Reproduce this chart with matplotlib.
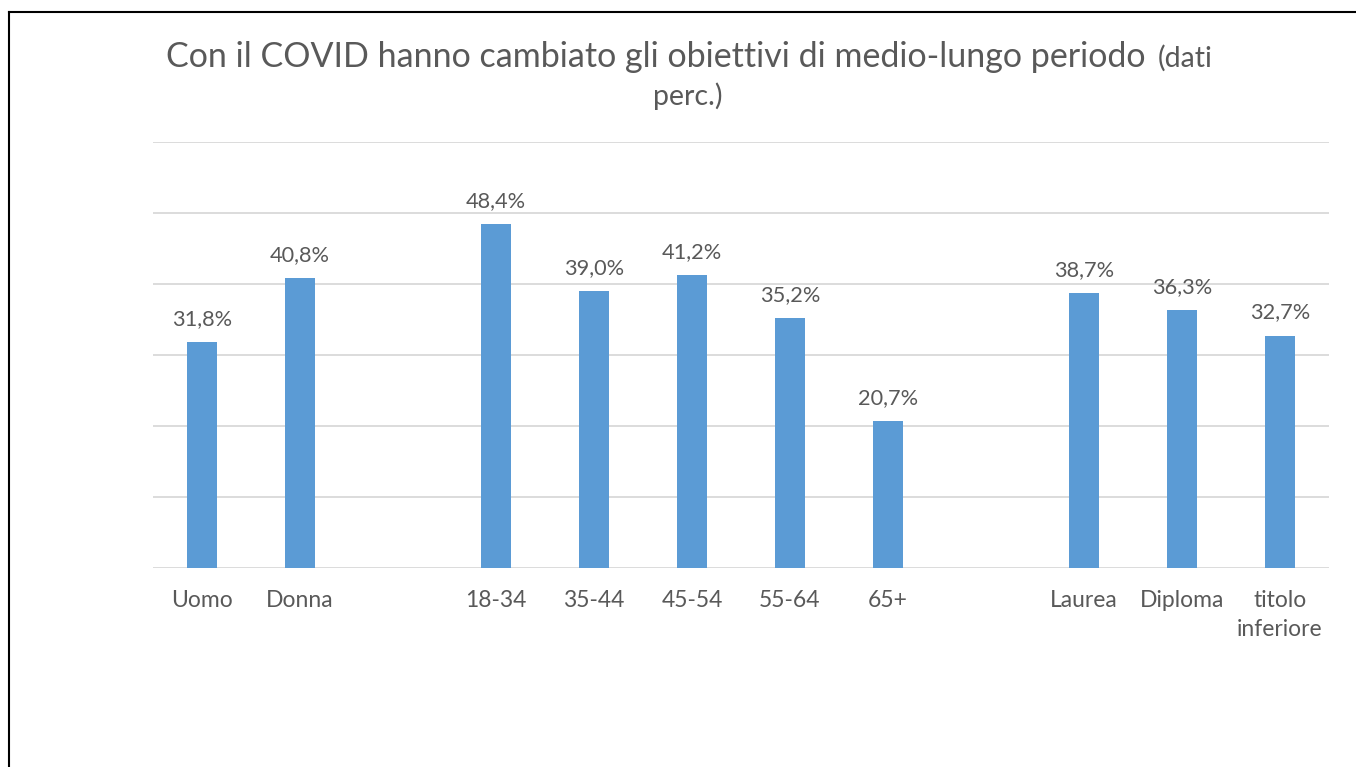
import numpy as np
import matplotlib.pyplot as plt
from matplotlib.lines import Line2D

# Con il COVID hanno cambiato gli obiettivi di medio-lungo periodo
categories = ['Uomo', 'Donna', '', '18-34', '35-44', '45-54', '55-64', '65+',
              '', 'Laurea', 'Diploma', 'titolo\ninferiore']
values = [31.8, 40.8, None, 48.4, 39.0, 41.2, 35.2, 20.7, None, 38.7, 36.3, 32.7]

plt.rcParams['font.family'] = ['Lato', 'DejaVu Sans']
text_col = '#595959'
bar_col = '#5B9BD5'

fig = plt.figure(figsize=(13.56, 7.67), dpi=100)
ax = fig.add_axes([153/1356, 1 - 568/767, 1176/1356, 426/767])

x = np.arange(len(categories))
for xi, v in zip(x, values):
    if v is None:
        continue
    ax.bar(xi, v, width=0.31, color=bar_col, zorder=3)
    ax.text(xi, v + 2.45, ('%.1f%%' % v).replace('.', ','), ha='center', va='baseline',
            fontsize=15.7, color=text_col)

ax.set_xlim(-0.5, len(categories) - 0.5)
ax.set_ylim(0, 60)
ax.set_yticks(np.arange(0, 61, 10))
ax.set_yticklabels([])
ax.tick_params(axis='y', length=0)
ax.set_xticks(x)
ax.set_xticklabels(categories, fontsize=16.5, color=text_col, linespacing=1.45)
ax.tick_params(axis='x', length=0, pad=16)
ax.grid(axis='y', color='#D9D9D9', linewidth=1.3, zorder=0)
for s in ax.spines.values():
    s.set_visible(False)

# title
fig.text(166/1356, 1 - 67/767, 'Con il COVID hanno cambiato gli obiettivi di medio-lungo periodo',
         fontsize=24.5, color=text_col, ha='left', va='baseline')
fig.text(1158/1356, 1 - 67/767, '(dati', fontsize=20.5, color=text_col, ha='left', va='baseline')
fig.text(688/1356, 1 - 105/767, 'perc.)', fontsize=20.5, color=text_col, ha='center', va='baseline')

# frame lines at the left and top
fig.add_artist(Line2D([9/1356, 9/1356], [0, 1 - 12/767], color='black', linewidth=1.5,
                      transform=fig.transFigure))
fig.add_artist(Line2D([9/1356, 1], [1 - 12/767, 1 - 12/767], color='black', linewidth=1.5,
                      transform=fig.transFigure))

fig.savefig('out.png', dpi=100)
